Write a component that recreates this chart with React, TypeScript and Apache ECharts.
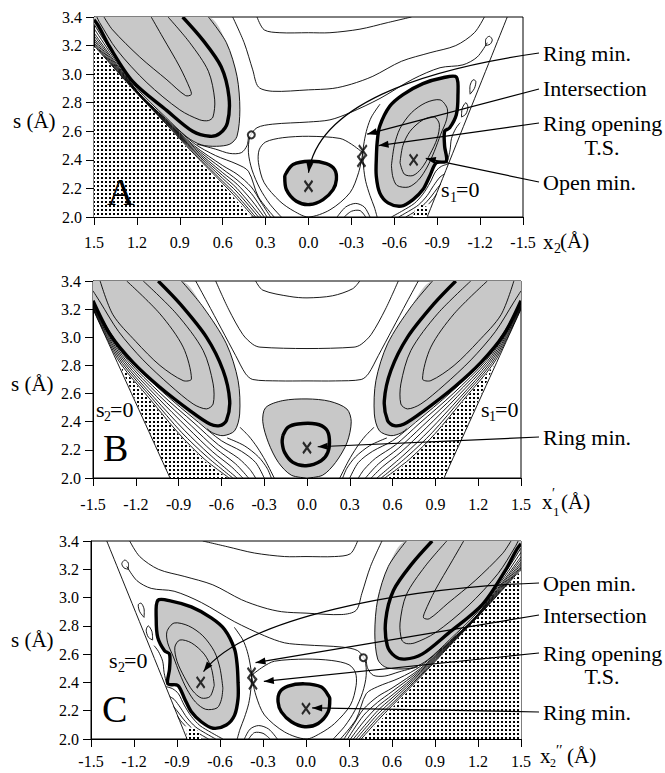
import React, { useEffect, useRef } from 'react';
import * as echarts from 'echarts';

type P = [number, number];

const F = "'Liberation Serif', 'Times New Roman', Times, serif";
const GRAY = '#c8c8c8';

// ---------------- Panels A and C (same surface; A is drawn on an inverted x axis) ----------------
const acValleyGrayEdge: P[] = [[0.70, 3.4], [0.574, 3.22], [0.50, 2.985], [0.48, 2.75], [0.50, 2.565], [0.55, 2.51], [0.644, 2.495], [0.75, 2.505], [0.85, 2.56], [1.0, 2.70], [1.2, 2.90], [1.38, 3.16], [1.5, 3.35]];
const acValleyThick: P[] = [[0.88, 3.4], [0.74, 3.24], [0.61, 3.05], [0.556, 2.84], [0.567, 2.66], [0.62, 2.585], [0.69, 2.565], [0.81, 2.60], [0.99, 2.745], [1.23, 2.95], [1.39, 3.19], [1.47, 3.34], [1.5, 3.38]];
const acValleyIn1: P[] = [[1.10, 3.4], [1.02, 3.26], [0.90, 3.05], [0.83, 2.9], [0.82, 2.857], [0.86, 2.85], [0.99, 2.96], [1.18, 3.12], [1.37, 3.31], [1.43, 3.4]];
const acValleyIn2: P[] = [[0.982, 3.4], [0.83, 3.22], [0.70, 3.02], [0.656, 2.82], [0.668, 2.70], [0.70, 2.675], [0.76, 2.68], [0.90, 2.75], [1.13, 2.94], [1.34, 3.17], [1.46, 3.36], [1.48, 3.4]];
const acDotted: P[] = [[1.5, 2.0], [1.5, 3.19], [1.2, 2.86], [1.0, 2.65], [0.8, 2.43], [0.6, 2.22], [0.5, 2.11], [0.4, 2.0]];
const acBand1: P[] = [[1.5, 3.20], [1.2, 2.865], [1.0, 2.655], [0.8, 2.44], [0.6, 2.235], [0.5, 2.13], [0.385, 2.0]];
const acBand2: P[] = [[1.5, 3.21], [1.2, 2.868], [1.0, 2.66], [0.8, 2.45], [0.6, 2.25], [0.5, 2.15], [0.37, 2.0]];
const acBand3: P[] = [[1.5, 3.22], [1.2, 2.872], [1.0, 2.665], [0.8, 2.46], [0.6, 2.27], [0.5, 2.175], [0.35, 2.0]];
const acBand4: P[] = [[1.5, 3.235], [1.2, 2.875], [1.0, 2.67], [0.8, 2.47], [0.6, 2.29], [0.5, 2.20], [0.33, 2.0]];
const acBand5: P[] = [[1.5, 3.25], [1.2, 2.878], [1.0, 2.675], [0.8, 2.48], [0.6, 2.31], [0.5, 2.23], [0.40, 2.12], [0.31, 2.0]];
const acBand6: P[] = [[1.5, 3.27], [1.2, 2.88], [1.0, 2.68], [0.8, 2.49], [0.6, 2.335], [0.5, 2.26], [0.40, 2.165], [0.29, 2.0]];
const acBand7: P[] = [[1.5, 3.29], [1.2, 2.883], [1.0, 2.685], [0.8, 2.50], [0.6, 2.36], [0.5, 2.30], [0.40, 2.21], [0.33, 2.10], [0.265, 2.0]];
const acBand8: P[] = [[1.5, 3.32], [1.2, 2.886], [1.0, 2.69], [0.8, 2.515], [0.65, 2.43], [0.5, 2.37], [0.42, 2.32], [0.35, 2.14], [0.24, 2.0]];
const acSpike: P[] = [[0.78, 2.51], [0.65, 2.475], [0.55, 2.445], [0.47, 2.45], [0.43, 2.5], [0.42, 2.56]];
const acT1: P[] = [[0.36, 3.4], [0.31, 3.31], [0.2, 3.29], [0.0, 3.29], [-0.15, 3.29], [-0.36, 3.315], [-0.55, 3.36], [-0.72, 3.4]];
const acT2: P[] = [[0.53, 3.4], [0.45, 3.22], [0.39, 3.03], [0.35, 2.91], [0.25, 2.88], [0.0, 2.89], [-0.17, 2.9], [-0.3, 2.93], [-0.45, 2.985], [-0.65, 3.09], [-0.85, 3.15], [-1.03, 3.2], [-1.16, 3.29], [-1.23, 3.4]];
const acT3: P[] = [[-1.25, 3.22], [-1.18, 3.12], [-1.08, 3.065], [-0.92, 3.045], [-0.73, 2.965], [-0.5, 2.83], [-0.29, 2.73], [-0.15, 2.68], [0.0, 2.665], [0.25, 2.65], [0.36, 2.625], [0.41, 2.56], [0.42, 2.45], [0.395, 2.33], [0.34, 2.2], [0.27, 2.09], [0.19, 2.0]];
const acTinyLoop: P[] = [[-1.24, 3.2], [-1.27, 3.21], [-1.285, 3.24], [-1.265, 3.265], [-1.24, 3.245], [-1.24, 3.2]];
const acLoop: P[] = [[-0.38, 2.45], [-0.30, 2.51], [-0.22, 2.55], [0.0, 2.565], [0.18, 2.555], [0.3, 2.525], [0.345, 2.47], [0.35, 2.38], [0.31, 2.24], [0.2, 2.11], [0.1, 2.04], [0.0, 2.0], [-0.15, 2.05], [-0.29, 2.17], [-0.35, 2.31], [-0.38, 2.45]];
const acSaddle: P[] = [[-0.50, 2.79], [-0.44, 2.70], [-0.41, 2.62], [-0.39, 2.53], [-0.38, 2.45], [-0.385, 2.35], [-0.40, 2.25], [-0.43, 2.15], [-0.46, 2.07], [-0.48, 2.0]];
const acBottom1: P[] = [[-0.2, 2.0], [-0.26, 2.07], [-0.33, 2.095], [-0.39, 2.07], [-0.43, 2.0]];
const acBottom2: P[] = [[-0.25, 2.0], [-0.30, 2.04], [-0.36, 2.045], [-0.40, 2.0]];
const acRingThick: P[] = [[0.155, 2.309], [0.108, 2.367], [-0.009, 2.39], [-0.125, 2.374], [-0.183, 2.332], [-0.195, 2.262], [-0.172, 2.192], [-0.102, 2.122], [-0.009, 2.087], [0.085, 2.11], [0.155, 2.192], [0.166, 2.285], [0.155, 2.309]];
const acOpenThick: P[] = [[-0.474, 2.40], [-0.48, 2.52], [-0.498, 2.635], [-0.568, 2.775], [-0.661, 2.857], [-0.80, 2.934], [-0.94, 2.975], [-1.034, 2.98], [-1.045, 2.845], [-1.034, 2.717], [-0.987, 2.624], [-0.952, 2.60], [-0.952, 2.495], [-0.964, 2.39], [-0.894, 2.379], [-0.847, 2.285], [-0.80, 2.192], [-0.731, 2.122], [-0.649, 2.076], [-0.556, 2.099], [-0.498, 2.169], [-0.474, 2.286], [-0.474, 2.40]];
const acOpenIn1: P[] = [[-0.58, 2.36], [-0.6, 2.5], [-0.64, 2.62], [-0.72, 2.73], [-0.82, 2.80], [-0.92, 2.82], [-0.97, 2.76], [-0.965, 2.68], [-0.925, 2.58], [-0.88, 2.46], [-0.83, 2.35], [-0.77, 2.26], [-0.70, 2.21], [-0.62, 2.22], [-0.59, 2.28], [-0.58, 2.36]];
const acOpenIn2: P[] = [[-0.64, 2.38], [-0.66, 2.5], [-0.71, 2.6], [-0.8, 2.68], [-0.88, 2.70], [-0.915, 2.65], [-0.9, 2.55], [-0.85, 2.44], [-0.79, 2.34], [-0.73, 2.29], [-0.67, 2.30], [-0.64, 2.38]];
const acHatch1: P[] = [[-0.58, 2.0], [-0.66, 2.045], [-0.74, 2.095], [-0.80, 2.16], [-0.85, 2.24], [-0.89, 2.32], [-0.93, 2.355], [-0.975, 2.37]];
const acHatch2: P[] = [[-0.63, 2.0], [-0.70, 2.04], [-0.77, 2.085], [-0.83, 2.15], [-0.875, 2.22], [-0.92, 2.28], [-0.95, 2.30]];
const acHatch3: P[] = [[-0.68, 2.0], [-0.74, 2.035], [-0.80, 2.08], [-0.855, 2.14], [-0.90, 2.20], [-0.925, 2.23]];
const acHatch4: P[] = [[-0.84, 2.09], [-0.875, 2.13], [-0.895, 2.16]];
const acWig1: P[] = [[-0.975, 2.40], [-0.99, 2.47], [-1.0, 2.55], [-1.03, 2.62], [-1.06, 2.66]];
const acWig2: P[] = [[-1.07, 2.70], [-1.10, 2.72], [-1.115, 2.77], [-1.1, 2.80], [-1.075, 2.76], [-1.07, 2.70]];
const acWig3: P[] = [[-1.13, 2.86], [-1.16, 2.90], [-1.17, 2.95], [-1.15, 2.96], [-1.13, 2.92], [-1.13, 2.86]];
const acDottedSmall: P[] = [[-0.73, 2.0], [-0.745, 2.05], [-0.79, 2.085], [-0.83, 2.07], [-0.835, 2.0]];
const acBoundary: P[] = [[-0.83, 2.0], [-1.39, 3.4]];
const acMinima: P[] = [[0.0, 2.215], [-0.735, 2.40]];
const acSaddlePts: P[] = [[-0.38, 2.465], [-0.37, 2.39]];
const acCircle: P[] = [[0.40, 2.575]];

// arrow targets (data) for A and C
const aTargets: P[] = [[0.0, 2.31], [-0.41, 2.58], [-0.49, 2.50], [-0.82, 2.41]];
const cTargets: P[] = [[-0.715, 2.477], [-0.352, 2.54], [-0.294, 2.407], [0.043, 2.22]];
const aLabels = ['Ring min.', 'Intersection', 'Ring opening', 'Open min.'];
const cLabels = ['Open min.', 'Intersection', 'Ring opening', 'Ring min.'];

// ---------------- Panel B (symmetric; left half drawn again on a hidden inverted axis) ----------------
const bRingGray: P[] = [[0, 2.0], [-0.11, 2.02], [-0.2, 2.11], [-0.27, 2.25], [-0.31, 2.40], [-0.29, 2.5], [-0.17, 2.55], [0, 2.562], [0.16, 2.545], [0.28, 2.49], [0.31, 2.40], [0.28, 2.25], [0.2, 2.11], [0.11, 2.02], [0, 2.0]];
const bRingThick: P[] = [[-0.169, 2.301], [-0.134, 2.36], [-0.064, 2.384], [0.064, 2.384], [0.134, 2.348], [0.157, 2.277], [0.146, 2.182], [0.099, 2.123], [-0.006, 2.087], [-0.099, 2.111], [-0.157, 2.182], [-0.174, 2.253], [-0.169, 2.301]];
const bT1: P[] = [[-0.36, 3.4], [-0.31, 3.335], [-0.12, 3.29], [0, 3.28], [0.18, 3.295], [0.32, 3.345], [0.37, 3.4]];
const bT2: P[] = [[-0.64, 3.4], [-0.55, 3.2], [-0.45, 3.02], [-0.38, 2.95], [-0.33, 2.93], [0, 2.92], [0.33, 2.93], [0.38, 2.95], [0.45, 3.02], [0.55, 3.2], [0.64, 3.4]];
const bT3: P[] = [[-0.78, 3.4], [-0.7, 3.25], [-0.6, 3.06], [-0.5, 2.87], [-0.43, 2.74], [-0.38, 2.70], [-0.2, 2.69], [0, 2.69], [0.2, 2.69], [0.38, 2.70], [0.43, 2.74], [0.5, 2.87], [0.6, 3.06], [0.7, 3.25], [0.78, 3.4]];
const bValleyGrayEdge: P[] = [[-0.88, 3.4], [-0.728, 3.215], [-0.565, 2.954], [-0.483, 2.693], [-0.472, 2.455], [-0.507, 2.336], [-0.588, 2.301], [-0.66, 2.32], [-0.70, 2.35]];
const bValleyLower: P[] = [[-0.84, 2.47], [-1.04, 2.645], [-1.22, 2.815], [-1.38, 3.01], [-1.5, 3.25]];
const bValleyThick: P[] = [[-1.043, 3.4], [-0.891, 3.239], [-0.705, 3.001], [-0.588, 2.764], [-0.542, 2.55], [-0.565, 2.408], [-0.612, 2.372], [-0.681, 2.384], [-0.821, 2.479], [-1.031, 2.645], [-1.218, 2.82], [-1.38, 3.02], [-1.5, 3.26]];
const bValleyIn1: P[] = [[-1.264, 3.4], [-1.031, 3.167], [-0.868, 2.93], [-0.81, 2.704], [-0.868, 2.692], [-1.031, 2.8], [-1.2, 2.97], [-1.36, 3.16], [-1.45, 3.4]];
const bValleyIn2: P[] = [[-1.148, 3.4], [-0.915, 3.167], [-0.728, 2.906], [-0.658, 2.669], [-0.658, 2.526], [-0.705, 2.491], [-0.798, 2.526], [-0.961, 2.66], [-1.15, 2.84], [-1.32, 3.04], [-1.45, 3.25], [-1.5, 3.33]];
const bDotted: P[] = [[-1.31, 2.80], [-1.1, 2.55], [-0.9, 2.31], [-0.72, 2.12], [-0.56, 2.0], [-0.96, 2.0]];
const bBoundary: P[] = [[-1.5, 3.2], [-0.96, 2.0]];
const bBand1: P[] = [[-1.5, 3.205], [-1.40, 2.99], [-1.305, 2.81], [-1.1, 2.56], [-0.9, 2.318], [-0.72, 2.135], [-0.545, 2.0]];
const bBand2: P[] = [[-1.5, 3.21], [-1.395, 2.995], [-1.295, 2.815], [-1.085, 2.565], [-0.88, 2.325], [-0.70, 2.15], [-0.52, 2.0]];
const bBand3: P[] = [[-1.5, 3.215], [-1.39, 3.0], [-1.285, 2.82], [-1.07, 2.57], [-0.86, 2.34], [-0.68, 2.165], [-0.49, 2.0]];
const bBand4: P[] = [[-1.5, 3.22], [-1.385, 3.005], [-1.275, 2.825], [-1.055, 2.58], [-0.835, 2.355], [-0.66, 2.185], [-0.53, 2.08], [-0.45, 2.0]];
const bBand5: P[] = [[-1.5, 3.225], [-1.38, 3.01], [-1.265, 2.83], [-1.04, 2.59], [-0.81, 2.37], [-0.64, 2.21], [-0.50, 2.10], [-0.41, 2.0]];
const bBand6: P[] = [[-1.5, 3.23], [-1.375, 3.015], [-1.255, 2.835], [-1.025, 2.60], [-0.785, 2.385], [-0.62, 2.235], [-0.48, 2.14], [-0.40, 2.06], [-0.36, 2.0]];
const bBand7: P[] = [[-1.5, 3.24], [-1.37, 3.02], [-1.245, 2.84], [-1.01, 2.61], [-0.76, 2.395], [-0.60, 2.265], [-0.46, 2.19], [-0.36, 2.11], [-0.30, 2.0]];
const bBand8: P[] = [[-0.56, 2.285], [-0.44, 2.23], [-0.34, 2.15], [-0.28, 2.07], [-0.25, 2.0]];
const bBand9: P[] = [[-0.47, 2.36], [-0.41, 2.30], [-0.35, 2.22], [-0.29, 2.12], [-0.23, 2.0]];
const bMinima: P[] = [[0.0, 2.215]];
const bTargets: P[] = [[0.075, 2.222]];
const bLabels = ['Ring min.'];

type Kind = 'gray' | 'dots' | 'thin' | 'thick';
type Shape = { pts: P[]; kind: Kind };
const S = (pts: P[], kind: Kind): Shape => ({ pts, kind });

const acShapes: Shape[] = [
  S([[1.5, 3.4], ...acValleyGrayEdge], 'gray'),
  S(acRingThick, 'gray'),
  S(acOpenThick, 'gray'),
  S(acDotted, 'dots'),
  S(acValleyIn1, 'thin'), S(acValleyIn2, 'thin'), S(acValleyGrayEdge, 'thin'),
  ...[acBand1, acBand2, acBand3, acBand4, acBand5, acBand6, acBand7, acBand8].map((b) => S(b, 'thin')),
  S(acSpike, 'thin'), S(acT1, 'thin'), S(acT2, 'thin'), S(acT3, 'thin'), S(acTinyLoop, 'thin'),
  S(acLoop, 'thin'), S(acSaddle, 'thin'), S(acBottom1, 'thin'), S(acBottom2, 'thin'),
  S(acOpenIn1, 'thin'), S(acOpenIn2, 'thin'),
  ...[acHatch1, acHatch2, acHatch3, acHatch4, acWig1, acWig2, acWig3].map((b) => S(b, 'thin')),
  S(acDottedSmall, 'dots'),
  S(acBoundary, 'thin'),
  S(acValleyThick, 'thick'), S(acRingThick, 'thick'), S(acOpenThick, 'thick'),
];

const bHalfShapes: Shape[] = [
  S([[-1.5, 3.4], ...bValleyGrayEdge, ...bValleyLower], 'gray'),
  S(bDotted, 'dots'),
  S(bValleyIn1, 'thin'), S(bValleyIn2, 'thin'), S(bValleyGrayEdge, 'thin'),
  ...[bBand1, bBand2, bBand3, bBand4, bBand5, bBand6, bBand7, bBand8, bBand9].map((b) => S(b, 'thin')),
  S(bBoundary, 'thin'),
  S(bValleyThick, 'thick'),
];
const bCenterShapes: Shape[] = [
  S(bRingGray, 'gray'),
  S(bRingGray, 'thin'), S(bT1, 'thin'), S(bT2, 'thin'), S(bT3, 'thin'),
  S(bRingThick, 'thick'),
];

const fmt = (v: number) => (Math.abs(v) < 1e-9 ? 0 : v).toFixed(1);

export default function App() {
  const ref = useRef<HTMLDivElement>(null);
  useEffect(() => {
    document.body.style.margin = '0';
    const chart = echarts.init(ref.current!, null, { renderer: 'svg' });

    const cv = document.createElement('canvas');
    cv.width = 4; cv.height = 4;
    const g = cv.getContext('2d')!;
    g.fillStyle = '#fff'; g.fillRect(0, 0, 4, 4);
    g.fillStyle = '#000'; g.fillRect(1, 1, 2, 2);
    const dots: any = { image: cv, repeat: 'repeat', imageWidth: 4, imageHeight: 4 };

    const custom = (shapes: Shape[], xi: number, yi: number) => ({
      type: 'custom', coordinateSystem: 'cartesian2d', xAxisIndex: xi, yAxisIndex: yi,
      clip: true, silent: true, z: 2,
      data: shapes.map((s, i) => [s.pts[0][0], s.pts[0][1], i]),
      encode: { x: 0, y: 1 },
      renderItem: (params: any, api: any) => {
        const sh = shapes[params.dataIndex];
        const points = sh.pts.map((p) => api.coord(p));
        if (sh.kind === 'gray') return { type: 'polygon', shape: { points, smooth: 0.3 }, style: { fill: GRAY, stroke: 'none' } };
        if (sh.kind === 'dots') return { type: 'polygon', shape: { points }, style: { fill: dots, stroke: 'none' } };
        return { type: 'polyline', shape: { points, smooth: 0.3 }, style: { fill: 'none', stroke: '#000', lineWidth: sh.kind === 'thick' ? 3.4 : 0.9 } };
      },
    });

    const xAx = (gridIndex: number, inverse: boolean, margin: number, show = true) => ({
      type: 'value', gridIndex, min: -1.5, max: 1.5, interval: 0.3, inverse, show,
      axisLine: { show: true, onZero: false, lineStyle: { color: '#000', width: 1 } },
      axisTick: { show: true, length: 8, lineStyle: { color: '#000', width: 1 } },
      axisLabel: { color: '#000', fontFamily: F, fontSize: 16, margin, formatter: fmt },
      splitLine: { show: false },
    });
    const yAx = (gridIndex: number) => ({
      type: 'value', gridIndex, min: 2.0, max: 3.4, interval: 0.2,
      axisLine: { show: true, onZero: false, lineStyle: { color: '#000', width: 1 } },
      axisTick: { show: true, length: 8, lineStyle: { color: '#000', width: 1 } },
      axisLabel: { color: '#000', fontFamily: F, fontSize: 16, margin: 12, formatter: fmt },
      splitLine: { show: false },
    });

    const xSym = 'path://M0,0L7,10M7,0L0,10';
    const markers = (data: P[], xi: number, yi: number) => ({
      type: 'scatter', xAxisIndex: xi, yAxisIndex: yi, data, symbol: xSym, symbolSize: [8, 11], silent: true, z: 5,
      itemStyle: { color: 'rgba(0,0,0,0)', borderColor: '#000', borderWidth: 2.2 },
    });
    const circles = (data: P[], xi: number, yi: number) => ({
      type: 'scatter', xAxisIndex: xi, yAxisIndex: yi, data, symbol: 'circle', symbolSize: 7, silent: true, z: 5,
      itemStyle: { color: '#fff', borderColor: '#000', borderWidth: 2 },
    });

    const gridBase = { show: true, borderColor: '#000', borderWidth: 1, backgroundColor: 'transparent' };
    chart.setOption({
      animation: false,
      grid: [
        { ...gridBase, left: 94, top: 17, width: 429, height: 200 },
        { ...gridBase, left: 93, top: 281, width: 428, height: 197 },
        { ...gridBase, left: 91, top: 541, width: 430, height: 198 },
      ],
      xAxis: [xAx(0, true, 17), xAx(1, false, 18), xAx(1, true, 18, false), xAx(2, false, 14)],
      yAxis: [yAx(0), yAx(1), yAx(2)],
      series: [
        custom(acShapes, 0, 0),
        custom(bCenterShapes, 1, 1),
        custom(bHalfShapes, 1, 1),
        custom(bHalfShapes, 2, 1),
        custom(acShapes, 3, 2),
        markers([...acMinima, ...acSaddlePts], 0, 0),
        circles(acCircle, 0, 0),
        markers(bMinima, 1, 1),
        markers([...acMinima, ...acSaddlePts], 3, 2),
        circles(acCircle, 3, 2),
      ],
    });

    const toPx = (xi: number, yi: number, p: P) => chart.convertToPixel({ xAxisIndex: xi, yAxisIndex: yi }, p) as number[];
    const els: any[] = [];
    const txt = (text: string, x: number, y: number, size: number, align = 'left') => {
      els.push({ type: 'text', x, y, z: 100, style: { text, fill: '#000', font: `${size}px ${F}`, textAlign: align, align, textVerticalAlign: 'middle', verticalAlign: 'middle' } });
    };
    const arrow = (start: number[], end: number[], c1?: number[], c2?: number[]) => {
      let from = start;
      if (c1 && c2) {
        els.push({ type: 'bezierCurve', z: 100, shape: { x1: start[0], y1: start[1], cpx1: c1[0], cpy1: c1[1], cpx2: c2[0], cpy2: c2[1], x2: end[0], y2: end[1] }, style: { stroke: '#000', lineWidth: 1.2, fill: 'none' } });
        from = c2;
      } else {
        els.push({ type: 'line', z: 100, shape: { x1: start[0], y1: start[1], x2: end[0], y2: end[1] }, style: { stroke: '#000', lineWidth: 1.2 } });
      }
      const dx = end[0] - from[0], dy = end[1] - from[1];
      const L = Math.hypot(dx, dy) || 1;
      const ux = dx / L, uy = dy / L, len = 10, hw = 3.5;
      const bx = end[0] - ux * len, by = end[1] - uy * len;
      els.push({ type: 'polygon', z: 101, shape: { points: [[end[0], end[1]], [bx - uy * hw, by + ux * hw], [bx + uy * hw, by - ux * hw]] }, style: { fill: '#000' } });
    };

    // Panel A
    const aT = aTargets.map((p) => toPx(0, 0, p));
    arrow([539, 53], aT[0], [420, 70], [318, 105]);
    arrow([539, 89], aT[1]);
    arrow([539, 123], aT[2]);
    arrow([539, 182], aT[3]);
    txt(aLabels[0], 543, 53, 22); txt(aLabels[1], 543, 88, 22); txt(aLabels[2], 543, 123, 22);
    txt('T.S.', 602, 147, 22, 'center'); txt(aLabels[3], 543, 182, 22);
    txt('s (Å)', 13, 121, 21);
    txt('A', 107, 192, 38);
    txt('s', 441, 189, 22); txt('1', 450, 197, 14); txt('=0', 456, 189, 22);
    txt('x', 543, 242, 21); txt('2', 554, 248, 14); txt('(Å)', 560, 241, 21);

    // Panel B
    const bT = bTargets.map((p) => toPx(1, 1, p));
    arrow([539, 437], bT[0]);
    txt(bLabels[0], 543, 437, 22);
    txt('s (Å)', 11, 384, 21);
    txt('B', 103, 448, 38);
    txt('s', 96, 409, 22); txt('2', 104, 416, 14); txt('=0', 110, 409, 22);
    txt('s', 481, 409, 22); txt('1', 489, 416, 14); txt('=0', 495, 409, 22);
    txt('x', 542, 502, 21); txt('′', 552, 493, 14); txt('1', 553, 511, 13); txt('(Å)', 561, 502, 21);

    // Panel C
    const cT = cTargets.map((p) => toPx(3, 2, p));
    arrow([539, 583], cT[0], [400, 588], [245, 618]);
    arrow([539, 615], cT[1]);
    arrow([539, 653], cT[2]);
    arrow([539, 712], cT[3]);
    txt(cLabels[0], 543, 583, 22); txt(cLabels[1], 543, 615, 22); txt(cLabels[2], 543, 653, 22);
    txt('T.S.', 602, 676, 22, 'center'); txt(cLabels[3], 543, 712, 22);
    txt('s (Å)', 11, 640, 21);
    txt('C', 102, 709, 38);
    txt('s', 109, 660, 22); txt('2', 118, 667, 14); txt('=0', 124, 660, 22);
    txt('x', 540, 756, 21); txt('2', 550, 763, 12); txt('′′', 556, 750, 15); txt('(Å)', 567, 756, 21);

    chart.setOption({ graphic: { elements: els } });
    return () => chart.dispose();
  }, []);
  return <div ref={ref} style={{ position: 'absolute', left: 0, top: 0, width: 665, height: 773 }} />;
}
